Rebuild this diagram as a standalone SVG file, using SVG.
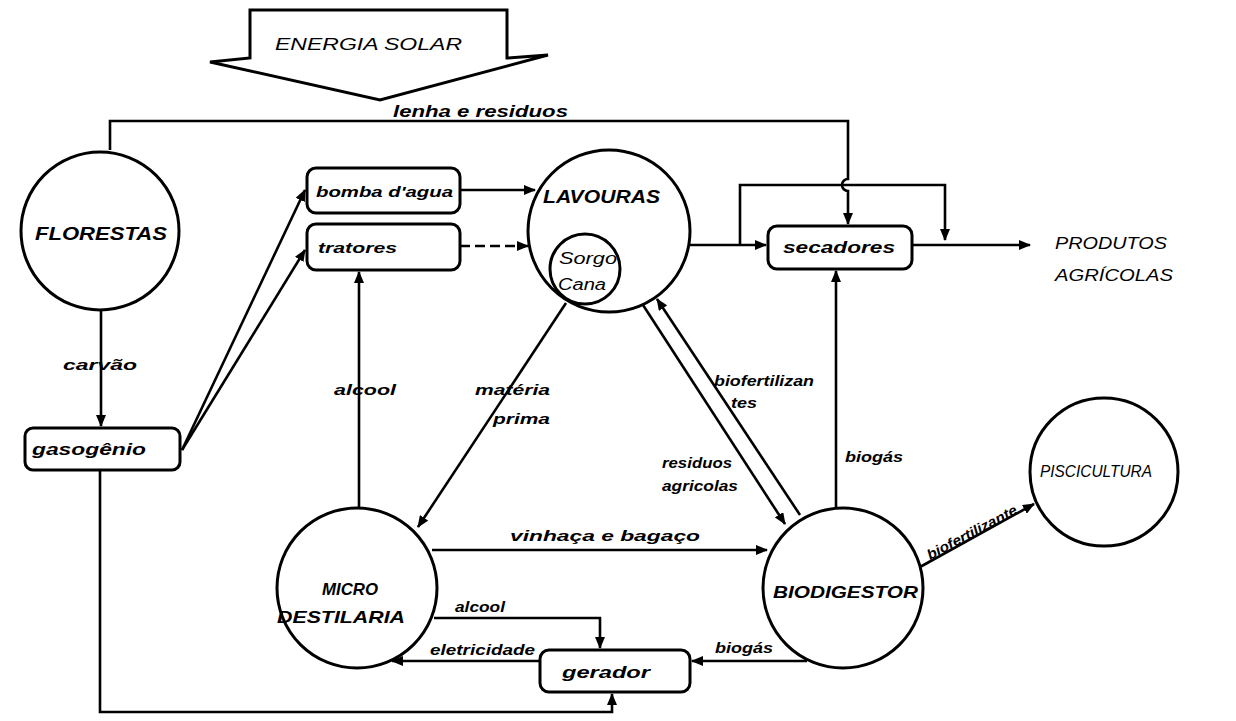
<svg xmlns="http://www.w3.org/2000/svg" width="1236" height="721" viewBox="0 0 1236 721">
<defs>
<marker id="ah" markerWidth="12" markerHeight="10" refX="11" refY="5" orient="auto" markerUnits="userSpaceOnUse">
<path d="M0,0 L12,5 L0,10 z" fill="#000"/>
</marker>
<style>
.ln{fill:none;stroke:#000;stroke-width:2.6}
.nd{fill:#fff;stroke:#000;stroke-width:3}
.t{font-family:"Liberation Sans",Arial,sans-serif;font-style:italic;font-weight:bold;fill:#000}
.n{font-family:"Liberation Sans",Arial,sans-serif;font-style:italic;fill:#000}
</style>
</defs>
<rect width="1236" height="721" fill="#fff"/>

<g id="energia-solar">
<path class="nd" d="M250,10 H507 V58 L548,55 L380,100 L210,62 L250,58 Z"/>
<text class="n" x="275" y="50" font-size="17" textLength="187" lengthAdjust="spacingAndGlyphs">ENERGIA SOLAR</text>
</g>

<g id="connectors">
<path class="ln" d="M110,150 V121 H848 V179 A6,6 0 0 0 848,191 V224" marker-end="url(#ah)"/>
<path class="ln" d="M740,245 V185 H945 V240" marker-end="url(#ah)"/>
<path class="ln" d="M690,245 H766" marker-end="url(#ah)"/>
<path class="ln" d="M912,245 H1030" marker-end="url(#ah)"/>
<path class="ln" d="M836,508 V271" marker-end="url(#ah)"/>
<path class="ln" d="M182,450 L305,190" marker-end="url(#ah)"/>
<path class="ln" d="M182,450 L305,250" marker-end="url(#ah)"/>
<path class="ln" d="M101,310 V426" marker-end="url(#ah)"/>
<path class="ln" d="M100,470 V712 H612 V694" marker-end="url(#ah)"/>
<path class="ln" d="M460,190 H535" marker-end="url(#ah)"/>
<path class="ln" d="M460,246 H528" stroke-dasharray="10,5" marker-end="url(#ah)"/>
<path class="ln" d="M359,508 V272" marker-end="url(#ah)"/>
<path class="ln" d="M566,303 L418,527" marker-end="url(#ah)"/>
<path class="ln" d="M643,305 L785,524" marker-end="url(#ah)"/>
<path class="ln" d="M800,515 L657,299" marker-end="url(#ah)"/>
<path class="ln" d="M432,550 H767" marker-end="url(#ah)"/>
<path class="ln" d="M434,618 H600 V648" marker-end="url(#ah)"/>
<path class="ln" d="M540,661 H392" marker-end="url(#ah)"/>
<path class="ln" d="M807,661 H692" marker-end="url(#ah)"/>
<path class="ln" d="M920,567 L1034,504" marker-end="url(#ah)"/>
<text class="t" x="393" y="117" font-size="16" textLength="175" lengthAdjust="spacingAndGlyphs">lenha e residuos</text>
<text class="t" x="63" y="370" font-size="15" textLength="74" lengthAdjust="spacingAndGlyphs">carvão</text>
<text class="t" x="334" y="395" font-size="15" textLength="62" lengthAdjust="spacingAndGlyphs">alcool</text>
<text class="t" x="475" y="395" font-size="15" textLength="75" lengthAdjust="spacingAndGlyphs">matéria</text>
<text class="t" x="493" y="424" font-size="15" textLength="57" lengthAdjust="spacingAndGlyphs">prima</text>
<text class="t" x="662" y="468" font-size="15" textLength="70" lengthAdjust="spacingAndGlyphs">residuos</text>
<text class="t" x="662" y="491" font-size="15" textLength="76" lengthAdjust="spacingAndGlyphs">agricolas</text>
<text class="t" x="714" y="386" font-size="15" textLength="100" lengthAdjust="spacingAndGlyphs">biofertilizan</text>
<text class="t" x="731" y="408" font-size="15" textLength="26" lengthAdjust="spacingAndGlyphs">tes</text>
<text class="t" x="845" y="462" font-size="15" textLength="58" lengthAdjust="spacingAndGlyphs">biogás</text>
<text class="t" x="510" y="541" font-size="15" textLength="190" lengthAdjust="spacingAndGlyphs">vinhaça e bagaço</text>
<text class="t" x="455" y="612" font-size="15" textLength="50" lengthAdjust="spacingAndGlyphs">alcool</text>
<text class="t" x="430" y="655" font-size="15" textLength="105" lengthAdjust="spacingAndGlyphs">eletricidade</text>
<text class="t" x="715" y="653" font-size="15" textLength="58" lengthAdjust="spacingAndGlyphs">biogás</text>
<text class="t" transform="translate(930,560) rotate(-28)" font-size="14" textLength="100" lengthAdjust="spacingAndGlyphs">biofertilizante</text>
</g>

<g id="florestas">
<circle class="nd" cx="100" cy="231" r="79"/>
<text class="t" x="35" y="240" font-size="19" textLength="132" lengthAdjust="spacingAndGlyphs">FLORESTAS</text>
</g>

<g id="gasogenio">
<rect class="nd" x="25" y="428" width="155" height="42" rx="8"/>
<text class="t" x="32" y="455" font-size="16" textLength="114" lengthAdjust="spacingAndGlyphs">gasogênio</text>
</g>

<g id="bomba">
<rect class="nd" x="307" y="168" width="153" height="45" rx="9"/>
<text class="t" x="316" y="197" font-size="15" textLength="137" lengthAdjust="spacingAndGlyphs">bomba d'agua</text>
</g>

<g id="tratores">
<rect class="nd" x="307" y="224" width="153" height="46" rx="9"/>
<text class="t" x="318" y="253" font-size="15" textLength="79" lengthAdjust="spacingAndGlyphs">tratores</text>
</g>

<g id="lavouras">
<circle class="nd" cx="609" cy="231" r="81"/>
<text class="t" x="543" y="203" font-size="18" textLength="117" lengthAdjust="spacingAndGlyphs">LAVOURAS</text>
<circle class="nd" cx="585" cy="269" r="35"/>
<text class="n" x="559" y="264" font-size="16" textLength="58" lengthAdjust="spacingAndGlyphs">Sorgo</text>
<text class="n" x="558" y="290" font-size="16" textLength="48" lengthAdjust="spacingAndGlyphs">Cana</text>
</g>

<g id="secadores">
<rect class="nd" x="768" y="226" width="144" height="43" rx="9"/>
<text class="t" x="783" y="253" font-size="16" textLength="112" lengthAdjust="spacingAndGlyphs">secadores</text>
</g>

<g id="produtos">
<text class="n" x="1055" y="249" font-size="16" textLength="112" lengthAdjust="spacingAndGlyphs">PRODUTOS</text>
<text class="n" x="1055" y="281" font-size="16" textLength="118" lengthAdjust="spacingAndGlyphs">AGRÍCOLAS</text>
</g>

<g id="micro-destilaria">
<circle class="nd" cx="357" cy="588" r="80"/>
<text class="t" x="322" y="595" font-size="17" textLength="56" lengthAdjust="spacingAndGlyphs">MICRO</text>
<text class="t" x="277" y="623" font-size="17" textLength="128" lengthAdjust="spacingAndGlyphs">DESTILARIA</text>
</g>

<g id="biodigestor">
<circle class="nd" cx="843" cy="588" r="80"/>
<text class="t" x="773" y="598" font-size="17" textLength="145" lengthAdjust="spacingAndGlyphs">BIODIGESTOR</text>
</g>

<g id="gerador">
<rect class="nd" x="540" y="650" width="150" height="42" rx="9"/>
<text class="t" x="562" y="678" font-size="16" textLength="88" lengthAdjust="spacingAndGlyphs">gerador</text>
</g>

<g id="piscicultura">
<circle class="nd" cx="1104" cy="472" r="74"/>
<text class="n" x="1040" y="477" font-size="16" textLength="112" lengthAdjust="spacingAndGlyphs">PISCICULTURA</text>
</g>
</svg>
